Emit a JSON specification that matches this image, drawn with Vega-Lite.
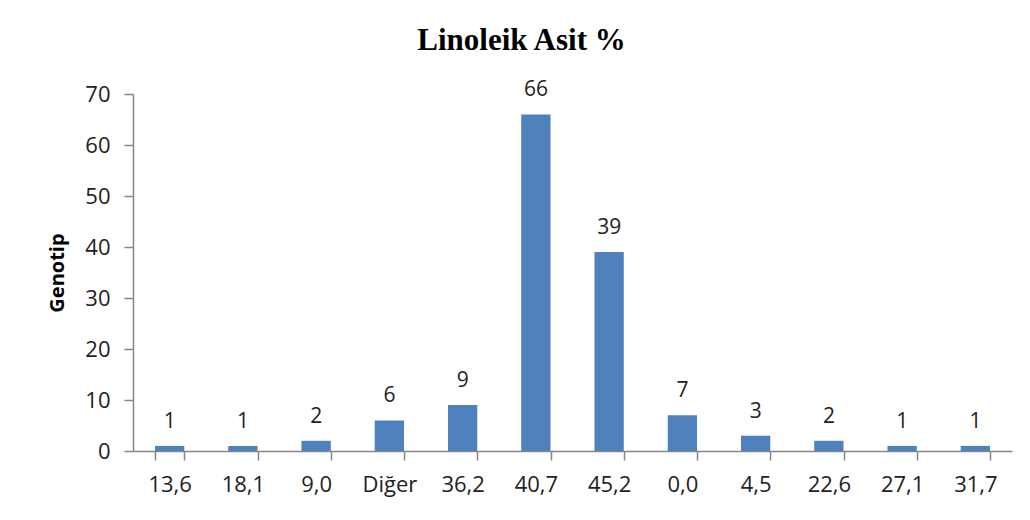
{
  "$schema": "https://vega.github.io/schema/vega-lite/v6.json",
  "autosize": {"type": "none"},
  "width": 879,
  "height": 357,
  "padding": {"left": 133, "top": 94, "right": 18, "bottom": 69},
  "background": "white",
  "title": {
    "text": "Linoleik Asit %",
    "font": "Liberation Serif",
    "fontSize": 31,
    "fontWeight": "bold",
    "color": "#000000",
    "dx": -51,
    "offset": 22
  },
  "data": {
    "values": [
      {"kategori": "13,6", "genotip": 1},
      {"kategori": "18,1", "genotip": 1},
      {"kategori": "9,0", "genotip": 2},
      {"kategori": "Diğer", "genotip": 6},
      {"kategori": "36,2", "genotip": 9},
      {"kategori": "40,7", "genotip": 66},
      {"kategori": "45,2", "genotip": 39},
      {"kategori": "0,0", "genotip": 7},
      {"kategori": "4,5", "genotip": 3},
      {"kategori": "22,6", "genotip": 2},
      {"kategori": "27,1", "genotip": 1},
      {"kategori": "31,7", "genotip": 1}
    ]
  },
  "encoding": {
    "x": {
      "field": "kategori",
      "type": "nominal",
      "sort": null,
      "scale": {"paddingInner": 0.6, "paddingOuter": 0.3},
      "axis": {
        "title": null,
        "labelAngle": 0,
        "labelFont": "Open Sans",
        "labelFontSize": 22,
        "labelColor": "#222222",
        "labelPadding": 14,
        "tickBand": "extent",
        "tickSize": 9,
        "tickColor": "#868686",
        "domainColor": "#868686",
        "domainWidth": 1.5,
        "tickWidth": 1.5,
        "grid": false
      }
    },
    "y": {
      "field": "genotip",
      "type": "quantitative",
      "scale": {"domain": [0, 70]},
      "axis": {
        "title": "Genotip",
        "titleFont": "Open Sans",
        "titleFontSize": 20,
        "titleFontWeight": "bold",
        "titleColor": "#000000",
        "titlePadding": 17,
        "values": [0, 10, 20, 30, 40, 50, 60, 70],
        "labelFont": "Open Sans",
        "labelFontSize": 22,
        "labelColor": "#222222",
        "labelPadding": 14,
        "tickSize": 9,
        "tickColor": "#868686",
        "domainColor": "#868686",
        "domainWidth": 1.5,
        "tickWidth": 1.5,
        "grid": false
      }
    }
  },
  "layer": [
    {"mark": {"type": "bar", "color": "#4F81BD"}},
    {
      "mark": {
        "type": "text",
        "font": "Open Sans",
        "fontSize": 21,
        "color": "#222222",
        "baseline": "bottom",
        "dy": -14
      },
      "encoding": {"text": {"field": "genotip", "type": "quantitative"}}
    }
  ],
  "config": {"view": {"stroke": null}}
}
